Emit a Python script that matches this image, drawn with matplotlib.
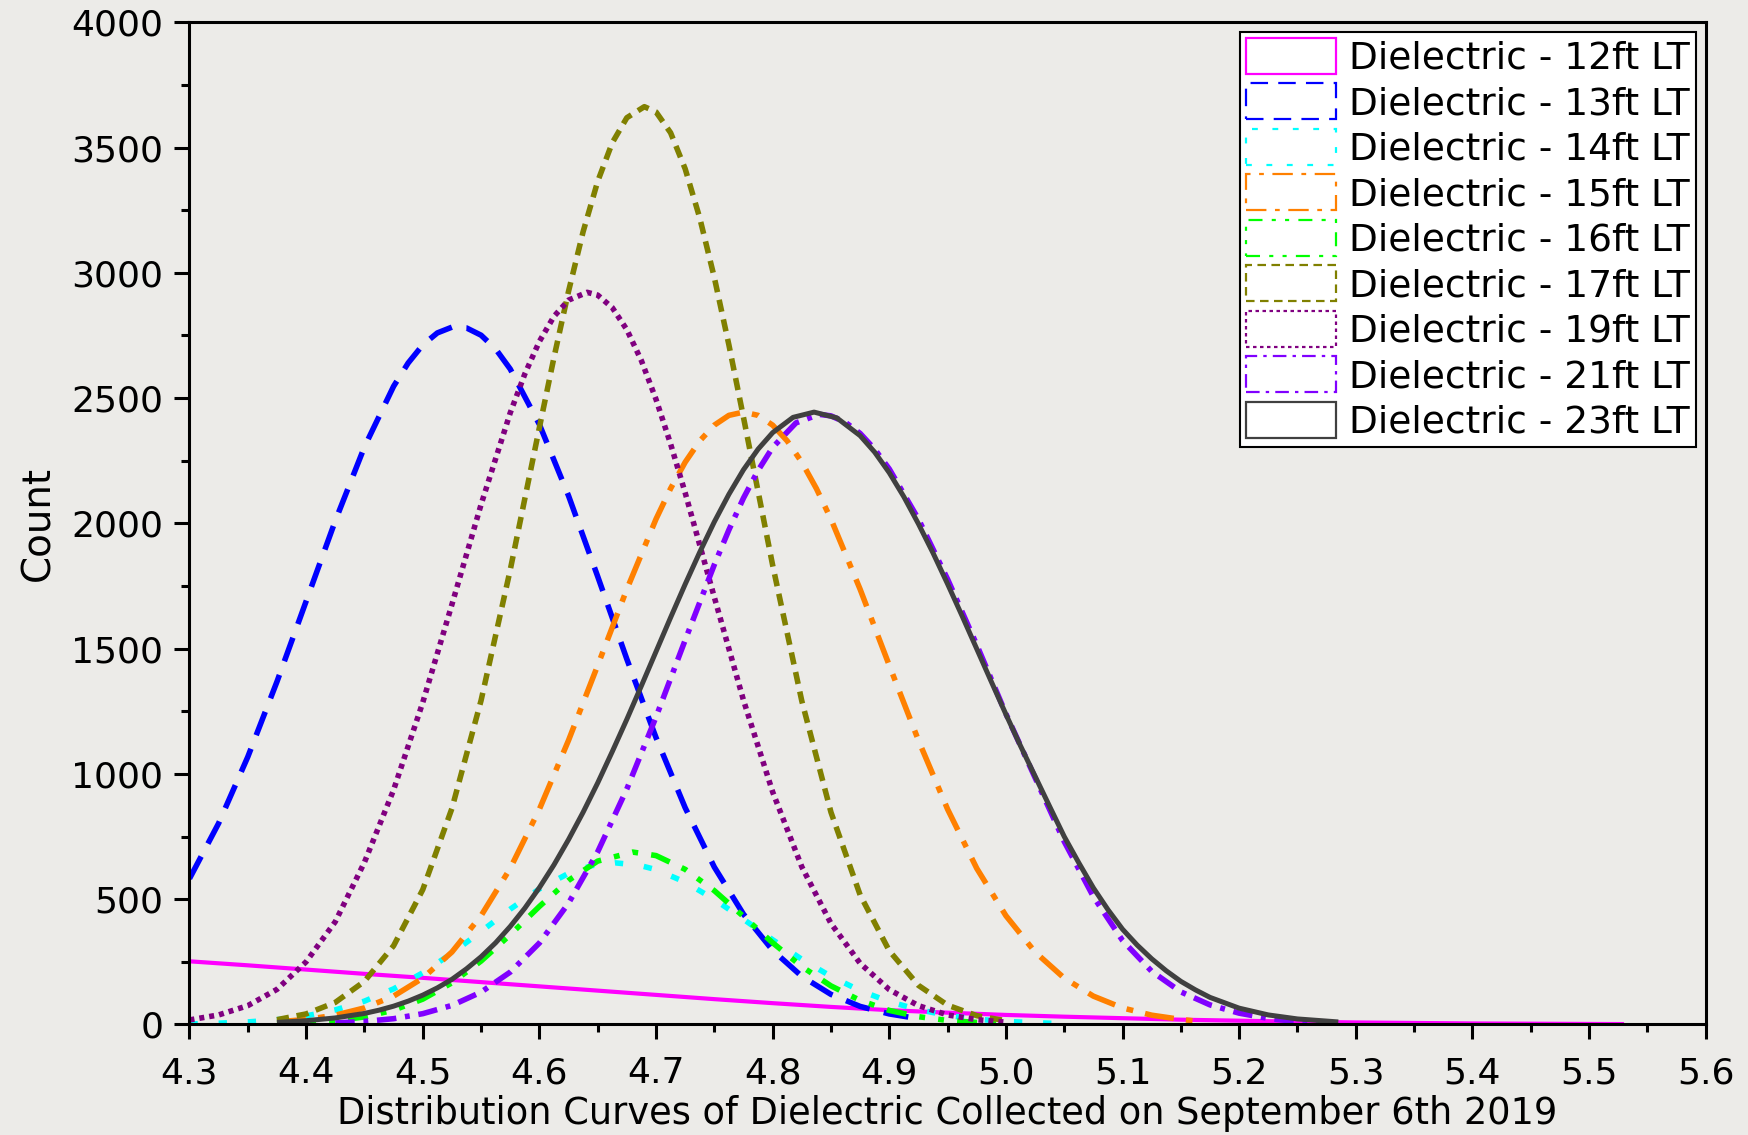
import matplotlib
matplotlib.use('Agg')
import matplotlib.pyplot as plt
from matplotlib.patches import Patch
from matplotlib.ticker import MultipleLocator, FormatStrFormatter

plt.rcParams['font.family'] = ['DejaVu Sans']

# ---------------- data ----------------
labels = ['Dielectric - 12ft LT', 'Dielectric - 13ft LT', 'Dielectric - 14ft LT',
          'Dielectric - 15ft LT', 'Dielectric - 16ft LT', 'Dielectric - 17ft LT',
          'Dielectric - 19ft LT', 'Dielectric - 21ft LT', 'Dielectric - 23ft LT']

x_12 = [4.30, 4.35, 4.40, 4.45, 4.50, 4.55, 4.60, 4.65, 4.70, 4.75, 4.80, 4.85, 4.90,
        4.95, 5.00, 5.05, 5.10, 5.15, 5.20, 5.25, 5.30, 5.35, 5.40, 5.45, 5.50, 5.53]
y_12 = [252, 236, 219, 202, 186, 169, 152, 135, 118, 101, 85, 70, 57,
        47, 38, 31, 25, 19, 15, 11, 8, 6, 4, 3, 2, 1.5]

x_13 = [4.300, 4.325, 4.350, 4.375, 4.400, 4.425, 4.450, 4.475, 4.4875, 4.500, 4.5125, 4.525,
        4.5375, 4.550, 4.5625, 4.575, 4.600, 4.625, 4.650, 4.675, 4.700, 4.725, 4.750, 4.775,
        4.800, 4.825, 4.850, 4.875, 4.900, 4.925]
y_13 = [582, 803, 1068, 1368, 1689, 2010, 2305, 2547, 2640, 2712, 2760, 2783,
        2780, 2751, 2696, 2616, 2395, 2110, 1788, 1458, 1145, 865, 628, 440,
        296, 192, 120, 72, 42, 23]

x_14 = [4.300, 4.325, 4.350, 4.375, 4.400, 4.425, 4.450, 4.475, 4.500, 4.525, 4.550, 4.575, 4.600,
        4.625, 4.645, 4.665, 4.685, 4.700, 4.725, 4.750, 4.775, 4.800, 4.825, 4.850, 4.875, 4.900,
        4.925, 4.950, 4.975, 5.000, 5.025, 5.050]
y_14 = [2, 5, 10, 19, 34, 58, 93, 142, 206, 284, 371, 460, 541,
        603, 634, 645, 636, 618, 568, 499, 420, 338, 260, 192, 135, 91,
        59, 36, 21, 12, 7, 3]

x_15 = [4.375, 4.400, 4.425, 4.450, 4.475, 4.500, 4.525, 4.550, 4.575, 4.600, 4.625, 4.650, 4.675,
        4.700, 4.7125, 4.725, 4.7375, 4.750, 4.7625, 4.775, 4.7875, 4.800, 4.8125, 4.825, 4.8375,
        4.850, 4.875, 4.900, 4.925, 4.950, 4.975, 5.000, 5.025, 5.050, 5.075, 5.100, 5.125, 5.150,
        5.160]
y_15 = [10, 20, 37, 66, 113, 185, 289, 434, 623, 859, 1134, 1433, 1737,
        2017, 2139, 2244, 2329, 2392, 2431, 2444, 2431, 2392, 2329, 2244, 2139,
        2017, 1737, 1433, 1134, 859, 623, 434, 289, 185, 113, 66, 37, 20,
        15]

x_16 = [4.375, 4.400, 4.425, 4.450, 4.475, 4.500, 4.525, 4.550, 4.575, 4.600, 4.625, 4.650, 4.680,
        4.700, 4.725, 4.750, 4.775, 4.800, 4.825, 4.850, 4.875, 4.900, 4.925, 4.950, 4.975, 5.000]
y_16 = [3, 7, 15, 30, 57, 101, 166, 253, 358, 471, 575, 652, 688,
        674, 619, 534, 431, 326, 231, 154, 96, 56, 31, 16, 8, 3]

x_17 = [4.375, 4.400, 4.425, 4.450, 4.475, 4.500, 4.525, 4.550, 4.575, 4.600, 4.6125, 4.625,
        4.6375, 4.650, 4.6625, 4.675, 4.690, 4.700, 4.7125, 4.725, 4.7375, 4.750, 4.7625, 4.775,
        4.800, 4.825, 4.850, 4.875, 4.900, 4.925, 4.950, 4.975, 5.000]
y_17 = [19, 42, 88, 172, 314, 538, 862, 1293, 1814, 2382, 2662, 2926,
        3164, 3365, 3519, 3619, 3663, 3642, 3559, 3415, 3219, 2981, 2712, 2423,
        1833, 1291, 847, 517, 294, 156, 77, 35, 15]

x_19 = [4.300, 4.325, 4.350, 4.375, 4.400, 4.425, 4.450, 4.475, 4.500, 4.525, 4.550, 4.575,
        4.5875, 4.600, 4.6125, 4.625, 4.641, 4.650, 4.6625, 4.675, 4.6875, 4.700, 4.7125, 4.725,
        4.750, 4.775, 4.800, 4.825, 4.850, 4.875, 4.900, 4.925, 4.950, 4.975, 5.000]
y_19 = [18, 38, 75, 140, 250, 410, 647, 936, 1285, 1676, 2075, 2441,
        2596, 2726, 2826, 2891, 2922, 2911, 2861, 2773, 2649, 2495, 2317, 2122,
        1705, 1294, 928, 629, 403, 244, 139, 75, 38, 19, 9]

x_21 = [4.425, 4.450, 4.475, 4.500, 4.525, 4.550, 4.575, 4.600, 4.625, 4.650, 4.675, 4.700,
        4.725, 4.750, 4.7625, 4.775, 4.7875, 4.800, 4.820, 4.840, 4.850, 4.8625, 4.875, 4.8875,
        4.900, 4.925, 4.950, 4.975, 5.000, 5.025, 5.050, 5.075, 5.100, 5.125, 5.150, 5.175,
        5.200, 5.225, 5.250, 5.275]
y_21 = [6, 12, 23, 43, 76, 129, 209, 325, 484, 689, 940, 1227,
        1534, 1835, 1974, 2101, 2211, 2303, 2401, 2435, 2429, 2403, 2359, 2296,
        2217, 2017, 1777, 1515, 1240, 985, 730, 510, 335, 212, 130, 78,
        45, 24, 11, 4]

x_23 = [4.375, 4.400, 4.425, 4.450, 4.4625, 4.475, 4.4875, 4.500, 4.5125, 4.525, 4.5375, 4.550,
        4.5625, 4.575, 4.5875, 4.600, 4.6125, 4.625, 4.6375, 4.650, 4.6625, 4.675, 4.6875, 4.700,
        4.7125, 4.725, 4.7375, 4.750, 4.7625, 4.775, 4.7875, 4.800, 4.8175, 4.8355, 4.855, 4.875,
        4.8875, 4.900, 4.9125, 4.925, 4.9375, 4.950, 4.9625, 4.975, 4.9875, 5.000, 5.0125, 5.025,
        5.0375, 5.050, 5.0625, 5.075, 5.0875, 5.100, 5.1125, 5.125, 5.1375, 5.150, 5.1625, 5.175,
        5.200, 5.225, 5.250, 5.285]
y_23 = [8, 15, 26, 44, 57, 73, 93, 117, 146, 180, 222, 270,
        326, 391, 464, 546, 637, 738, 847, 964, 1089, 1218, 1352, 1488,
        1624, 1757, 1885, 2006, 2116, 2214, 2296, 2362, 2423, 2444, 2421, 2350,
        2284, 2202, 2106, 1998, 1882, 1758, 1630, 1499, 1368, 1238, 1112, 991,
        870, 750, 645, 545, 458, 380, 317, 262, 214, 172, 138, 108,
        65, 38, 22, 10]

x_ticks = [4.3, 4.4, 4.5, 4.6, 4.7, 4.8, 4.9, 5.0, 5.1, 5.2, 5.3, 5.4, 5.5, 5.6]
y_ticks = [0, 500, 1000, 1500, 2000, 2500, 3000, 3500, 4000]

# ---------------- styling ----------------
xs = [x_12, x_13, x_14, x_15, x_16, x_17, x_19, x_21, x_23]
ys = [y_12, y_13, y_14, y_15, y_16, y_17, y_19, y_21, y_23]
colors = ['#FF00FF', '#0000FF', '#00FFFF', '#FF8000', '#00FF00', '#808000',
          '#800080', '#8000FF', '#404040']
# dash patterns in points (divided by line width below so the on-screen length is fixed)
dash_pts = [None, (18, 10.5), (6, 15), (21, 8.8, 4.9, 8.8), (14.4, 9.5, 4.2, 9.5, 4.2, 9.5),
            (8.8, 5.6), (3.6, 3.6), (14, 6.3, 3.5, 6.3), None]
widths = [3.0, 4.0, 4.0, 4.0, 4.0, 4.0, 4.0, 4.0, 3.6]

bg = '#ECEBE8'
fig = plt.figure(figsize=(17.48, 11.35), dpi=100)
fig.patch.set_facecolor(bg)
ax = fig.add_axes([0.1084, 0.0974, 0.8674, 0.8830])
ax.set_facecolor(bg)

handles = []
for x, y, c, d, w, lab in zip(xs, ys, colors, dash_pts, widths, labels):
    if d is None:
        ls = '-'
        pls = '-'
    else:
        ls = (0, tuple(v / w for v in d))
        pls = (0, tuple(v * 0.7 / 1.6 for v in d))
    ax.plot(x, y, color=c, lw=w, linestyle=ls, solid_capstyle='butt', dash_capstyle='butt')
    handles.append(Patch(facecolor='white', edgecolor=c, linewidth=1.6, linestyle=pls, label=lab))

ax.set_xlim(4.3, 5.6)
ax.set_ylim(0, 4000)
ax.set_xticks(x_ticks)
ax.set_yticks(y_ticks)
ax.xaxis.set_major_formatter(FormatStrFormatter('%.1f'))
ax.xaxis.set_minor_locator(MultipleLocator(0.05))
ax.yaxis.set_minor_locator(MultipleLocator(250))

for s in ax.spines.values():
    s.set_linewidth(2.2)
ax.tick_params(which='major', length=10.8, width=2.2, direction='out', labelsize=26,
               top=False, right=False)
ax.tick_params(which='minor', length=5.8, width=2.2, direction='out', top=False, right=False)
ax.tick_params(axis='x', which='major', pad=12)
ax.tick_params(axis='y', which='major', pad=8)

ax.set_xlabel('Distribution Curves of Dielectric Collected on September 6th 2019', fontsize=26.5)
ax.set_ylabel('Count', fontsize=28)
ax.xaxis.set_label_coords(0.5, -0.070)
ax.yaxis.set_label_coords(-0.087, 0.5)

leg = ax.legend(handles=handles, loc='upper right', bbox_to_anchor=(1.0, 1.0),
                fontsize=27, frameon=True, fancybox=False, framealpha=1.0,
                handlelength=2.4, handleheight=1.1, handletextpad=0.35,
                labelspacing=0.18, borderpad=0.17, borderaxespad=0.25)
leg.get_frame().set_edgecolor('black')
leg.get_frame().set_linewidth(1.5)
leg.get_frame().set_facecolor('white')

fig.savefig('out.png', dpi=100, facecolor=bg)
